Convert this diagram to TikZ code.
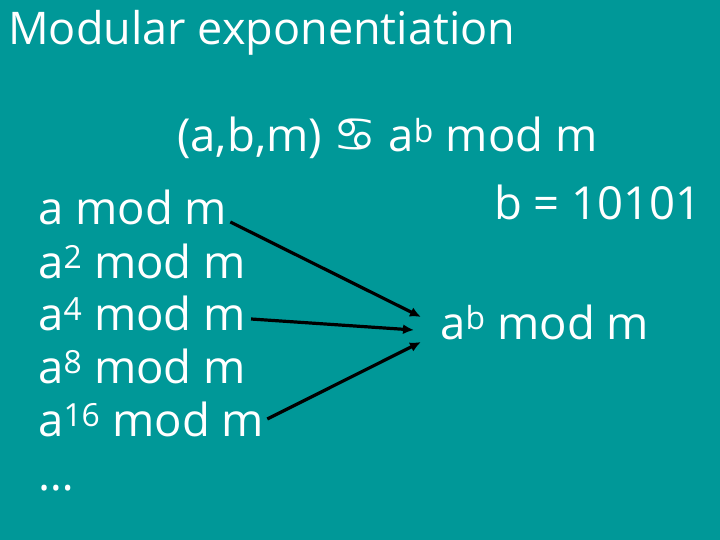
\documentclass[tikz,border=0pt]{standalone}
\usepackage{fontspec}
\usetikzlibrary{arrows.meta}
\setmainfont{Open Sans}
\newfontfamily\symfont{DejaVu Sans}
\definecolor{bg}{RGB}{0,152,152}
\begin{document}
\begin{tikzpicture}[x=1pt,y=-1pt,
  txt/.style={text=white,inner sep=0pt,anchor=base west,font=\fontsize{45.5}{54}\selectfont},
  conn/.style={draw=black,line width=3.2pt,-{Latex[length=11pt,width=10pt]}}]
\useasboundingbox[fill=bg] (0,0) rectangle (720,540);
\node[txt,font=\fontsize{45}{54}\selectfont] (title) at (8,45) {Modular exponentiation};
\node[txt] (main) at (177,152) {(a,b,m) {\symfont\fontsize{48}{54}\selectfont ♋} a\textsuperscript{b} mod m};
\node[txt] (bval) at (494,220) {b = 10101};
\node[txt] (l1) at (38,225) {a mod m};
\node[txt] (l2) at (38,278) {a\textsuperscript{2} mod m};
\node[txt] (l3) at (38,330) {a\textsuperscript{4} mod m};
\node[txt] (l4) at (38,383) {a\textsuperscript{8} mod m};
\node[txt] (l5) at (38,436) {a\textsuperscript{16} mod m};
\node[txt] (l6) at (38,490) {…};
\node[txt] (res) at (440,339) {a\textsuperscript{b} mod m};
\draw[conn] ([xshift=3pt,yshift=3pt]l1.base east) -- ([xshift=-19pt,yshift=22pt]res.base west);
\draw[conn] ([xshift=5pt,yshift=11pt]l3.base east) -- ([xshift=-26pt,yshift=9pt]res.base west);
\draw[conn] ([xshift=3pt,yshift=17pt]l5.base east) -- ([xshift=-19pt,yshift=-3pt]res.base west);
\end{tikzpicture}
\end{document}
